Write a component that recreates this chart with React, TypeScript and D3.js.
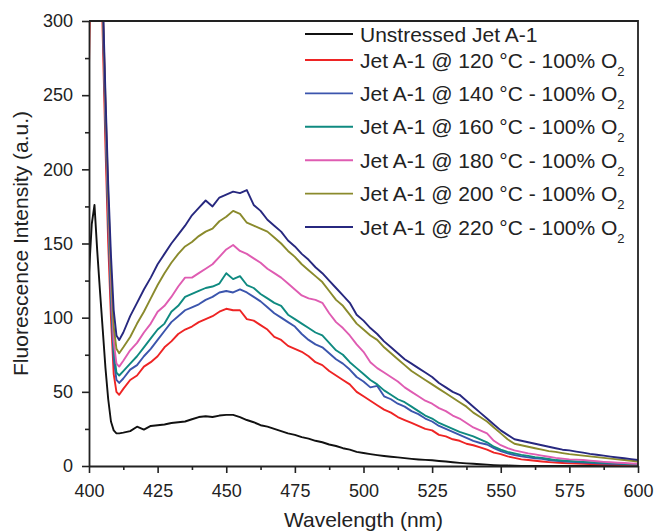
import { useEffect, useRef } from "react";
import * as d3 from "d3";

// wavelength grid (nm) the spectra were read on
const wavelengths = [
  400, 401, 402, 403, 404, 405, 406, 407, 408, 409, 410, 411,
  412.5, 415, 417.5, 420, 422.5, 425, 427.5, 430, 432.5, 435,
  437.5, 440, 442.5, 445, 447.5, 450, 452.5, 455, 457.5, 460,
  462.5, 465, 467.5, 470, 472.5, 475, 477.5, 480, 482.5, 485,
  487.5, 490, 492.5, 495, 497.5, 500, 502.5, 505, 507.5, 510,
  512.5, 515, 517.5, 520, 522.5, 525, 527.5, 530, 532.5, 535,
  537.5, 540, 542.5, 545, 547.5, 550, 552.5, 555, 557.5, 560,
  562.5, 565, 567.5, 570, 572.5, 575, 577.5, 580, 582.5, 585,
  587.5, 590, 592.5, 595, 597.5, 600,
];

const unstressed = [
  130, 163, 176, 145, 118, 92, 66, 45, 30, 24, 22, 22,
  22.5, 23.5, 26.5, 24.5, 27, 27.5, 28, 29, 29.5, 30,
  31.5, 33, 33.5, 33, 34, 34.5, 34.5, 33, 31, 29.5,
  27.5, 26.5, 25, 23.5, 22, 21, 19.5, 18.5, 17, 16,
  14.5, 13.5, 12, 11, 9.5, 8.8, 8, 7.3, 6.7, 6.2,
  5.8, 5.3, 4.8, 4.4, 4.1, 3.9, 3.4, 3, 2.5, 2.1,
  1.8, 1.5, 1.2, 0.9, 0.6, 0.4, 0.3, 0.2, 0.1, 0,
  0, 0, 0, 0, 0, 0, 0, 0, 0, 0,
  0, 0, 0, 0, 0, 0,
];

const t120 = [
  270, 380, 420, 420, 380, 290, 215, 150, 100, 62, 50, 48,
  52, 58, 61, 67, 70, 74, 80, 84, 89, 92,
  94, 97, 99, 101, 104, 106, 105, 105, 99, 98,
  95, 92, 87, 85, 81, 79, 77, 74, 70, 68,
  64, 61, 58, 55, 50, 47, 44, 41, 38, 36,
  33, 31, 29, 27, 25, 24, 21, 20, 18, 17,
  15, 14, 12.5, 11, 9, 8, 6.5, 5.5, 4.5, 4,
  3.5, 3, 2.6, 2.3, 2, 1.8, 1.6, 1.5, 1.3, 1.2,
  1, 1, 0.8, 0.7, 0.6, 0.5,
];

const t140 = [
  400, 420, 420, 420, 390, 305, 230, 165, 112, 72, 58, 56,
  59, 65, 68, 74, 79, 85, 91, 97, 101, 105,
  107, 109, 112, 114, 117, 118, 117, 119, 117, 114,
  111, 107, 103, 100, 97, 94, 89, 85, 82, 80,
  76, 72, 69, 65, 60, 57, 53, 54, 47, 45,
  42, 40, 37, 35, 32, 30, 27, 25, 23, 21,
  19, 17, 15.5, 14.5, 12, 10, 8.5, 7.4, 6.5, 5.8,
  5.2, 4.8, 4, 3.5, 3.1, 2.8, 2.6, 2.4, 2.1, 1.9,
  1.7, 1.5, 1.4, 1.2, 1.1, 1,
];

const t160 = [
  400, 420, 420, 420, 395, 308, 235, 170, 118, 78, 63, 61,
  64, 69, 74, 80, 86, 92, 96, 104, 108, 114,
  116, 118, 120, 121, 123, 130, 126, 128, 122, 120,
  116, 113, 110, 108, 102, 99, 96, 93, 90, 88,
  83, 78, 75, 70, 66, 62, 58, 55, 51, 48,
  45, 43, 40, 37, 34, 32, 29, 27, 25, 23,
  21.5, 20, 18, 16, 13, 11, 9.5, 8.5, 7.5, 6.8,
  6, 5.5, 4.7, 4, 3.7, 3.4, 3.1, 2.8, 2.6, 2.4,
  2.2, 2, 1.8, 1.5, 1.2, 1,
];

const t180 = [
  400, 420, 420, 420, 395, 310, 240, 175, 124, 84, 69, 67,
  71, 78, 83, 90, 96, 104, 108, 114, 121, 127,
  127, 130, 133, 136, 141, 146, 149, 145, 143, 140,
  137, 133, 130, 127, 123, 119, 115, 113, 112, 110,
  103, 97, 93, 88, 82, 77, 70, 66, 63, 60,
  57, 53, 50, 47, 44, 42, 39, 37, 34, 32,
  29, 26, 24, 22, 17, 14, 12, 10.5, 9.5, 8.5,
  7.8, 7, 6.2, 5.5, 5, 4.5, 4.3, 4, 3.6, 3.2,
  2.8, 2.5, 2.2, 2, 1.7, 1.5,
];

const t200 = [
  400, 420, 420, 420, 400, 312, 245, 182, 132, 94, 79, 76,
  80, 87, 96, 104, 113, 122, 130, 137, 143, 148,
  151, 155, 158, 160, 165, 168, 172, 170, 164, 162,
  160, 158, 154, 150, 145, 141, 136, 132, 128, 124,
  118, 112, 108, 102, 96, 92, 88, 85, 80, 76,
  72, 68, 64, 61, 58, 55, 52, 49, 46, 43,
  40, 36, 33, 30, 26, 22, 18, 15, 14, 13,
  12, 11, 10, 9.5, 8.7, 8, 7.5, 7, 6.5, 6,
  5.5, 5, 4.5, 4, 3.5, 3,
];

const t220 = [
  400, 420, 420, 420, 400, 318, 250, 190, 142, 105, 88, 85,
  90, 101, 110, 119, 127, 136, 143, 150, 156, 162,
  169, 174, 179, 175, 181, 183, 185, 184, 186, 176,
  172, 166, 162, 158, 152, 148, 143, 139, 134, 130,
  125, 120, 115, 110, 102, 98, 93, 89, 84, 80,
  76, 72, 69, 66, 63, 60, 56, 53, 50, 48,
  44, 40, 36, 32, 28, 24, 21, 18, 17, 16,
  15, 14, 13, 12, 11, 10.5, 9.7, 9, 8.2, 7.6,
  7, 6.3, 5.7, 5.2, 4.6, 4,
];

const seriesValues = [unstressed, t120, t140, t160, t180, t200, t220];
const seriesLabels = [
  "Unstressed Jet A-1",
  "Jet A-1 @ 120 °C - 100% O",
  "Jet A-1 @ 140 °C - 100% O",
  "Jet A-1 @ 160 °C - 100% O",
  "Jet A-1 @ 180 °C - 100% O",
  "Jet A-1 @ 200 °C - 100% O",
  "Jet A-1 @ 220 °C - 100% O",
];
const seriesColors = ["#111111", "#ee2424", "#3b55ad", "#0f8a80", "#df5cb2", "#8a8a2c", "#27287f"];

const xTicks = [400, 425, 450, 475, 500, 525, 550, 575, 600];
const yTicks = [0, 50, 100, 150, 200, 250, 300];

export default function App() {
  const svgRef = useRef<SVGSVGElement | null>(null);

  useEffect(() => {
    const width = 654;
    const height = 532;
    const margin = { top: 21, right: 16, bottom: 66, left: 89 };
    const font = "'Liberation Sans', Arial, sans-serif";
    const ink = "#222";

    const svg = d3.select(svgRef.current)
      .attr("width", width)
      .attr("height", height)
      .style("background", "#fff");

    svg.selectAll("*").remove();

    const x = d3.scaleLinear().domain([400, 600]).range([margin.left, width - margin.right]);
    const y = d3.scaleLinear().domain([0, 300]).range([height - margin.bottom, margin.top]);

    svg.append("clipPath").attr("id", "plot-clip")
      .append("rect")
      .attr("x", x(400)).attr("y", y(300))
      .attr("width", x(600) - x(400)).attr("height", y(0) - y(300));

    // spectra
    const line = d3.line<number>()
      .x((_, i) => x(wavelengths[i]))
      .y(d => y(d));

    const lines = svg.append("g").attr("clip-path", "url(#plot-clip)");
    seriesValues.forEach((vals, i) => {
      lines.append("path")
        .datum(vals)
        .attr("fill", "none")
        .attr("stroke", seriesColors[i])
        .attr("stroke-width", 1.9)
        .attr("stroke-linejoin", "round")
        .attr("d", line);
    });

    // frame (top + right)
    svg.append("path")
      .attr("d", `M${x(400)},${y(300)}H${x(600)}V${y(0)}`)
      .attr("fill", "none")
      .attr("stroke", ink)
      .attr("stroke-width", 1.8);

    // minor ticks
    const xMinor = d3.range(412.5, 600, 25);
    const yMinor = d3.range(25, 300, 50);
    const gxMinor = svg.append("g")
      .attr("transform", `translate(0, ${y(0)})`)
      .call(d3.axisBottom(x).tickValues(xMinor).tickSize(4).tickFormat(() => ""));
    const gyMinor = svg.append("g")
      .attr("transform", `translate(${x(400)}, 0)`)
      .call(d3.axisLeft(y).tickValues(yMinor).tickSize(4).tickFormat(() => ""));
    [gxMinor, gyMinor].forEach(g => {
      g.select(".domain").remove();
      g.selectAll("line").attr("stroke", ink).attr("stroke-width", 1.6);
    });

    // major axes
    const gx = svg.append("g")
      .attr("transform", `translate(0, ${y(0)})`)
      .call(d3.axisBottom(x).tickValues(xTicks).tickSize(7).tickSizeOuter(0).tickPadding(11).tickFormat(d3.format("d")));
    const gy = svg.append("g")
      .attr("transform", `translate(${x(400)}, 0)`)
      .call(d3.axisLeft(y).tickValues(yTicks).tickSize(7).tickSizeOuter(0).tickPadding(9).tickFormat(d3.format("d")));
    [gx, gy].forEach(g => {
      g.select(".domain").attr("stroke", ink).attr("stroke-width", 1.8);
      g.selectAll("line").attr("stroke", ink).attr("stroke-width", 1.6);
      g.selectAll("text")
        .attr("fill", ink)
        .style("font-family", font)
        .style("font-size", "18px");
    });

    // axis titles
    svg.append("text")
      .attr("x", (x(400) + x(600)) / 2)
      .attr("y", 527)
      .attr("text-anchor", "middle")
      .attr("fill", ink)
      .style("font-family", font)
      .style("font-size", "21px")
      .text("Wavelength (nm)");

    svg.append("text")
      .attr("transform", `translate(28, ${(y(0) + y(300)) / 2}) rotate(-90)`)
      .attr("text-anchor", "middle")
      .attr("fill", ink)
      .style("font-family", font)
      .style("font-size", "21px")
      .text("Fluorescence Intensity (a.u.)");

    // legend
    const legend = svg.append("g");
    seriesLabels.forEach((label, i) => {
      const ly = i === 0 ? 34 : 60 + (i - 1) * 33.4;
      legend.append("line")
        .attr("x1", 305).attr("x2", 353)
        .attr("y1", ly).attr("y2", ly)
        .attr("stroke", seriesColors[i])
        .attr("stroke-width", 1.9);
      const t = legend.append("text")
        .attr("x", 360)
        .attr("y", ly + 7.5)
        .attr("fill", ink)
        .style("font-family", font)
        .style("font-size", "21px")
        .text(label);
      if (i > 0) {
        t.append("tspan")
          .attr("dy", 8)
          .style("font-size", "13px")
          .text("2");
      }
    });
  }, []);

  return <svg ref={svgRef} style={{ position: "absolute", left: 0, top: 0 }}></svg>;
}
